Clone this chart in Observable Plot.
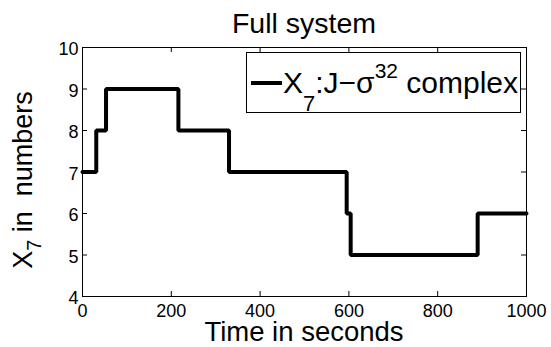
<!DOCTYPE html>
<html>
<head>
<meta charset="utf-8">
<script src="https://cdn.jsdelivr.net/npm/d3@7"></script>
<script src="https://cdn.jsdelivr.net/npm/@observablehq/plot@0.6"></script>
<style>
  body { margin: 0; background: #fff; }
  #chart svg { display: block; }
</style>
</head>
<body>
<div id="chart"></div>
<script>
// Population of species X7 over time (stochastic simulation, step changes)
const stepTimes = [0, 31, 53, 216, 330, 595, 604, 890, 1000];
const x7Counts  = [7, 8, 9, 8, 7, 6, 5, 6, 6];

const xTicks = [0, 200, 400, 600, 800, 1000];
const yTicks = [4, 5, 6, 7, 8, 9, 10];

const titleText = "Full system";
const xLabelText = "Time in seconds";

const series = stepTimes.map((t, i) => ({t, n: x7Counts[i]}));

const W = 551, H = 347;
const mL = 82, mR = 25, mT = 47, mB = 51;
const innerW = W - mL - mR, innerH = H - mT - mB;
const tickLen = 5;
const font = "'Liberation Sans', Arial, Helvetica, sans-serif";

const chart = Plot.plot({
  width: W,
  height: H,
  marginLeft: mL,
  marginRight: mR,
  marginTop: mT,
  marginBottom: mB,
  style: {fontFamily: font, fontSize: "18px", color: "#000", background: "#fff"},
  x: {domain: [0, 1000]},
  y: {domain: [4, 10]},
  marks: [
    Plot.axisX({ticks: xTicks, tickFormat: d => String(d), tickSize: 0, tickPadding: 8, label: null}),
    Plot.axisY({ticks: yTicks, tickFormat: d => String(d), tickSize: 0, tickPadding: 4, label: null, dy: 2}),
    // inward ticks on all four sides (boxed axes)
    Plot.tickX(xTicks, {x: d => d, insetTop: innerH - tickLen, stroke: "#000"}),
    Plot.tickX(xTicks, {x: d => d, insetBottom: innerH - tickLen, stroke: "#000"}),
    Plot.tickY(yTicks, {y: d => d, insetRight: innerW - tickLen, stroke: "#000"}),
    Plot.tickY(yTicks, {y: d => d, insetLeft: innerW - tickLen, stroke: "#000"}),
    Plot.line(series, {x: "t", y: "n", curve: "step-after", stroke: "#000", strokeWidth: 4, strokeLinejoin: "miter"}),
    Plot.frame({stroke: "#000"})
  ]
});

const svg = d3.select(chart);

// title
svg.append("text")
  .attr("x", mL + innerW / 2).attr("y", 33)
  .attr("text-anchor", "middle")
  .attr("font-family", font).attr("font-size", 28.5)
  .attr("fill", "#000")
  .text(titleText);

// x label
svg.append("text")
  .attr("x", mL + innerW / 2).attr("y", 341)
  .attr("text-anchor", "middle")
  .attr("font-family", font).attr("font-size", 27.5)
  .attr("fill", "#000")
  .text(xLabelText);

// y label with subscript
const yl = svg.append("text")
  .attr("transform", `translate(32,180) rotate(-90)`)
  .attr("text-anchor", "middle")
  .attr("font-family", font).attr("font-size", 27)
  .attr("fill", "#000")
  .attr("xml:space", "preserve");
yl.append("tspan").text("X");
yl.append("tspan").attr("dy", 9).attr("font-size", 20).text("7");
yl.append("tspan").attr("dy", -9).text(" in  numbers");

// legend
const lg = svg.append("g");
lg.append("rect")
  .attr("x", 246.5).attr("y", 52.5).attr("width", 274).attr("height", 60)
  .attr("fill", "#fff").attr("stroke", "#000");
lg.append("line")
  .attr("x1", 251).attr("x2", 282).attr("y1", 83).attr("y2", 83)
  .attr("stroke", "#000").attr("stroke-width", 4);
const lt = lg.append("text")
  .attr("x", 283).attr("y", 93)
  .attr("text-anchor", "start")
  .attr("font-family", font).attr("font-size", 30)
  .attr("fill", "#000")
  .attr("xml:space", "preserve");
lt.append("tspan").text("X");
lt.append("tspan").attr("dy", 18).attr("font-size", 22).text("7");
lt.append("tspan").attr("dy", -18).text(":J\u2212\u03C3");
lt.append("tspan").attr("dy", -15).attr("font-size", 21).text("32");
lt.append("tspan").attr("dy", 15).text(" complex");

document.getElementById("chart").appendChild(chart);
</script>
</body>
</html>
